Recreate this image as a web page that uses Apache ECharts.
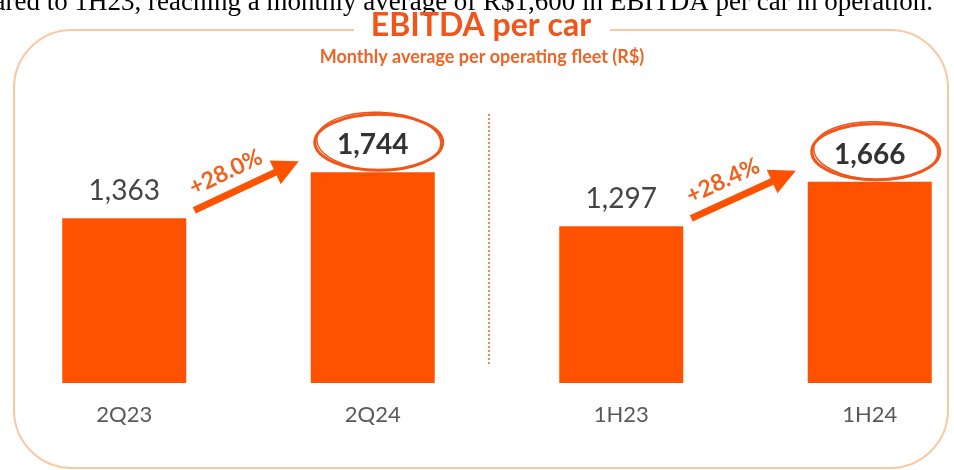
<!DOCTYPE html>
<html><head><meta charset="utf-8">
<script src="https://cdn.jsdelivr.net/npm/echarts@6/dist/echarts.min.js"></script>
<style>html,body{margin:0;padding:0;background:#fff;overflow:hidden}#c{width:954px;height:470px}</style>
</head><body><div id="c"></div>
<script>
// ---- data ----
const categories = ['2Q23', '2Q24', '1H23', '1H24'];
const values = [1363, 1744, 1297, 1666];
const highlighted = [false, true, false, true];
const growthLabels = ['+28.0%', '+28.4%'];
const titleText = 'EBITDA per car';
const subtitleText = 'Monthly average per operating fleet (R$)';
const introText = 'ared to 1H23, reaching a monthly average of R$1,600 in EBITDA per car in operation.';

// ---- chart ----
const ORANGE = '#FF5200';
const chart = echarts.init(document.getElementById('c'), null, {renderer: 'canvas'});
const fmt = v => Number(v).toLocaleString('en-US');

chart.setOption({
  animation: false,
  backgroundColor: '#ffffff',
  grid: {left: 0, top: 141.4, width: 994, height: 241.6, outerBoundsMode: 'none', containLabel: false},
  xAxis: {
    type: 'category',
    data: categories,
    axisLine: {show: false},
    axisTick: {show: false},
    axisLabel: {fontSize: 22, color: '#595959', margin: 21, fontFamily: 'Lato'}
  },
  yAxis: {type: 'value', min: 0, max: 2000, show: false},
  series: [{
    type: 'bar',
    barWidth: 124,
    itemStyle: {color: ORANGE},
    label: {
      show: true, position: 'top', distance: 13,
      fontSize: 28, fontFamily: 'Lato', color: '#444444',
      formatter: p => fmt(p.value)
    },
    data: values.map((v, i) => highlighted[i]
      ? {value: v, label: {fontWeight: 'bold', color: '#333333'}}
      : {value: v})
  }]
});

// ---- annotations derived from the chart's own scales ----
const px = (i) => chart.convertToPixel({seriesIndex: 0}, [categories[i], values[i]]);
const HALF = 62;

function arrowPoints(s, t, shaft, headLen, headW) {
  const dx = t[0] - s[0], dy = t[1] - s[1];
  const len = Math.hypot(dx, dy);
  const ux = dx / len, uy = dy / len;
  const nx = -uy, ny = ux;
  const bx = t[0] - ux * headLen, by = t[1] - uy * headLen;
  return [
    [s[0] + nx * shaft / 2, s[1] + ny * shaft / 2],
    [bx + nx * shaft / 2, by + ny * shaft / 2],
    [bx + nx * headW / 2, by + ny * headW / 2],
    [t[0], t[1]],
    [bx - nx * headW / 2, by - ny * headW / 2],
    [bx - nx * shaft / 2, by - ny * shaft / 2],
    [s[0] - nx * shaft / 2, s[1] - ny * shaft / 2]
  ];
}

const graphics = [];
// rounded frame
graphics.push({type: 'rect', z: 1, shape: {x: 14, y: 30, width: 934, height: 438, r: 58},
  style: {fill: 'none', stroke: '#F7C9A3', lineWidth: 2}});
graphics.push({type: 'rect', z: 2, shape: {x: 354, y: 20, width: 256, height: 22},
  style: {fill: '#ffffff'}});
// intro sentence (cut at the top)
graphics.push({type: 'text', z: 3, style: {text: introText, x: 933, y: 16, align: 'right', verticalAlign: 'bottom',
  font: '27px "Liberation Serif"', fill: '#000000'}});
// title + subtitle
graphics.push({type: 'text', z: 3, style: {text: titleText, x: 481, y: 26, align: 'center', verticalAlign: 'middle',
  font: 'bold 32px Lato', fill: '#F0561C'}});
graphics.push({type: 'text', z: 3, style: {text: subtitleText, x: 482, y: 57, align: 'center', verticalAlign: 'middle',
  font: 'bold 18px Lato', fill: '#EE6427'}});
// divider
graphics.push({type: 'line', z: 3, shape: {x1: 489, y1: 114, x2: 489, y2: 365},
  style: {stroke: '#F08A4B', lineWidth: 2, lineDash: [2, 2]}});

for (let k = 0; k < 2; k++) {
  const a = px(2 * k), b = px(2 * k + 1);
  const s = [a[0] + HALF + 8, a[1] - 8];
  const t = [b[0] - HALF - 12, b[1] - 11];
  graphics.push({type: 'polygon', z: 4, shape: {points: arrowPoints(s, t, 7, 26, 26)},
    style: {fill: ORANGE}});
  const dx = t[0] - s[0], dy = t[1] - s[1];
  const len = Math.hypot(dx, dy);
  const ux = dx / len, uy = dy / len;
  const nx = uy, ny = -ux; // upward normal
  const mx = (s[0] + t[0]) / 2, my = (s[1] + t[1]) / 2;
  const cx = mx + nx * 21 - ux * 13, cy = my + ny * 21 - uy * 13;
  graphics.push({type: 'text', z: 4, x: cx, y: cy, rotation: Math.atan2(-dy, dx),
    style: {text: growthLabels[k], x: 0, y: 0, align: 'center', verticalAlign: 'middle',
      font: 'bold 23px Lato', fill: '#F0601E'}});
  // circle around the highlighted value
  const ex = b[0] + 6, ey = b[1] - 30;
  graphics.push({type: 'ellipse', z: 4, shape: {cx: ex, cy: ey, rx: 64, ry: 28},
    style: {fill: 'none', stroke: '#F0561C', lineWidth: 3}});
  graphics.push({type: 'ellipse', z: 4, rotation: -0.04, x: ex, y: ey, shape: {cx: 0, cy: -1, rx: 62, ry: 29},
    style: {fill: 'none', stroke: '#F0561C', lineWidth: 1.5}});
}
chart.setOption({graphic: graphics});
</script>
</body></html>
